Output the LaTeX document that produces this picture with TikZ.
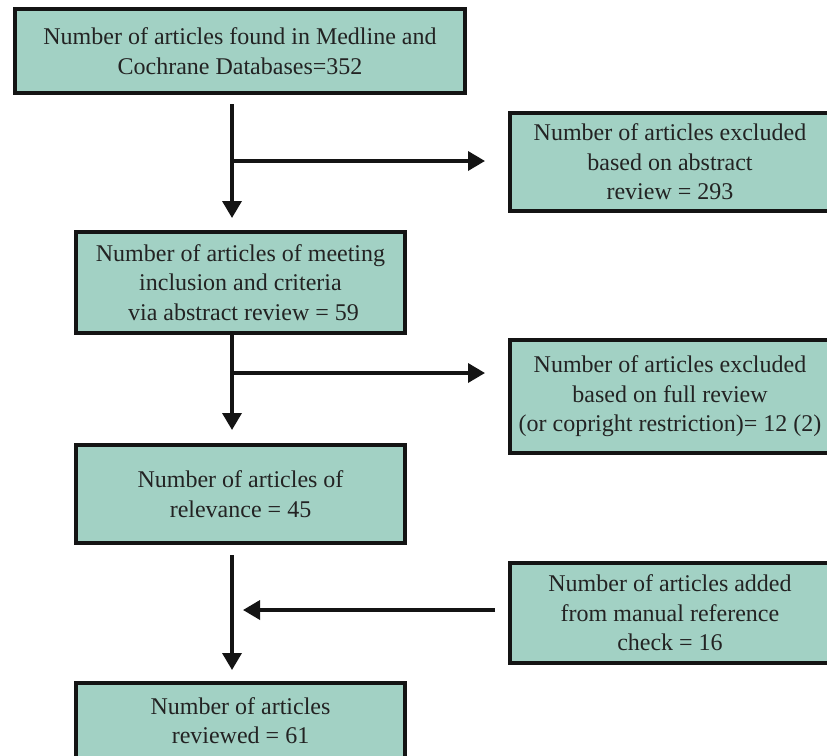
\documentclass[tikz,border=0pt]{standalone}
\usepackage{fontspec}
\setmainfont{Liberation Serif}
\usetikzlibrary{arrows.meta}
\definecolor{boxfill}{RGB}{162,209,196}
\definecolor{ink}{RGB}{20,20,20}
\definecolor{txt}{RGB}{35,35,35}
\begin{document}
\begin{tikzpicture}[x=1pt,y=-1pt,
  box/.style={draw=ink, line width=4pt, fill=boxfill, align=center,
    inner sep=0pt, text=txt, font=\fontsize{24}{29.5}\selectfont},
  ln/.style={draw=ink, line width=3.5pt},
  arr/.style={ln, -{Triangle[width=19pt,length=17pt]}}]
\useasboundingbox (0,0) rectangle (827,755);
\fill[white] (0,0) rectangle (827,755);
\clip (0,0) rectangle (827,755);

\node[box, minimum width=450pt, minimum height=84pt] (b1) at (240,51)
  {Number of articles found in Medline and\\Cochrane Databases=352};
\node[box, minimum width=320pt, minimum height=98pt] (b2) at (670,162)
  {Number of articles excluded\\based on abstract\\review = 293};
\node[box, minimum width=329pt, minimum height=101pt] (b3) at (240.5,282.5)
  {Number of articles of meeting\\inclusion and criteria\\\ via abstract review = 59};
\node[box, minimum width=320pt, minimum height=113pt] (b4) at (670,396.5)
  {Number of articles excluded\\based on full review\\(or copright restriction)= 12 (2)};
\node[box, minimum width=329pt, minimum height=98pt] (b5) at (240.5,494)
  {Number of articles of\\relevance = 45};
\node[box, minimum width=320pt, minimum height=100pt] (b6) at (670,613)
  {Number of articles added\\from manual reference\\check = 16};
\node[box, minimum width=329pt, minimum height=75pt] (b7) at (240.5,720.5)
  {Number of articles\\reviewed = 61};

\coordinate (c1) at (232,161);
\coordinate (c2) at (232,373);
\coordinate (c3) at (232,610);

\draw[arr, shorten <=9pt, shorten >=12pt] (b1.south -| c1) -- (b3.north -| c1);
\draw[arr, shorten >=23pt] (c1) -- (b2.west |- c1);
\draw[arr, shorten >=13pt] (b3.south -| c2) -- (b5.north -| c2);
\draw[arr, shorten >=23pt] (c2) -- (b4.west |- c2);
\draw[arr, shorten <=10pt, shorten >=11pt] (b5.south -| c3) -- (b7.north -| c3);
\draw[arr, shorten <=13pt, shorten >=11pt] (b6.west |- c3) -- (c3);
\end{tikzpicture}
\end{document}
